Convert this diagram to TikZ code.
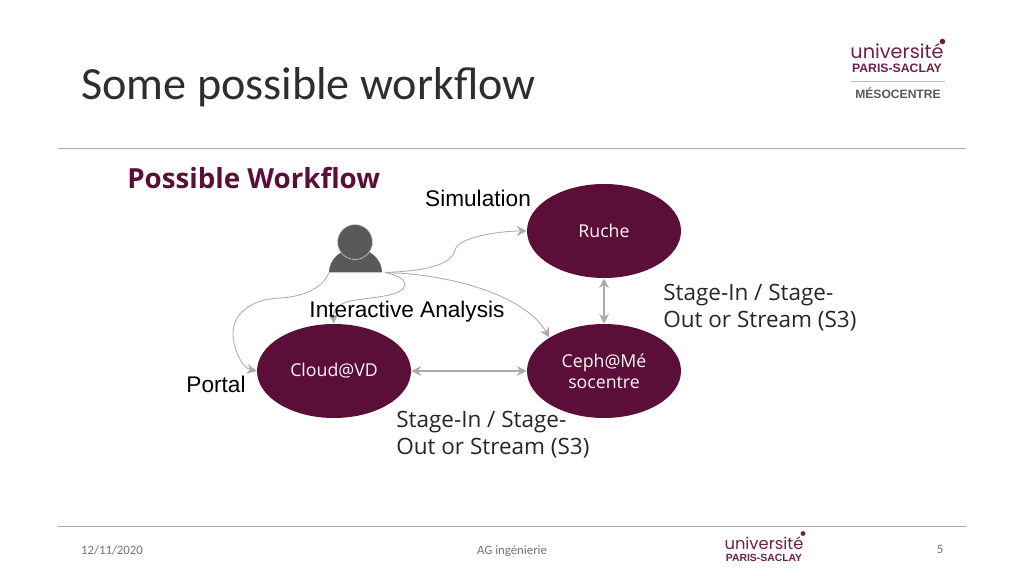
\documentclass[tikz,border=0pt]{standalone}
\usepackage{fontspec}
\setmainfont{Carlito}
\newfontfamily\opensans{Open Sans}
\newfontfamily\arialfont{Liberation Sans}
\newfontfamily\logofont{Poppins}
\usetikzlibrary{shapes.geometric,arrows.meta}
\definecolor{plum}{HTML}{5B0E38}
\definecolor{logoplum}{HTML}{6E1F48}
\definecolor{linegray}{HTML}{ABABAB}
\definecolor{persongray}{HTML}{595959}
\tikzset{
    site/.style={ellipse,fill=plum,minimum width=154*0.025cm,minimum height=94*0.025cm,inner sep=0pt,align=center,text=white!90!pink,font=\opensans\fontsize{12.6}{15}\selectfont},
    flow/.style={-{Stealth[length=7pt,width=7pt]},linegray,line width=0.6pt},
    both/.style={{Stealth[length=7pt,width=7pt]}-{Stealth[length=7pt,width=7pt]},linegray,line width=0.8pt},
    arial/.style={inner sep=0pt,text=black,font=\arialfont\fontsize{16.1}{18}\selectfont},
    sans/.style={inner sep=0pt,align=left,text=black!85,font=\opensans\fontsize{16}{19.2}\selectfont},
    foot/.style={inner sep=0pt,anchor=base,text=black!55,font=\fontsize{9.1}{10}\selectfont}
}
\begin{document}
\begin{tikzpicture}[x=0.025cm,y=-0.025cm]
    \useasboundingbox (0,0) rectangle (1024,576);
    % header and footer
    \node[inner sep=0pt,anchor=west,text=black!82,font=\fontsize{32.8}{36}\selectfont] (title) at (81,87) {Some possible workflow};
    \draw[linegray,line width=0.6pt] (58,148) -- (966,148);
    \draw[linegray,line width=0.6pt] (58,526) -- (966,526);
    \node[foot] (date) at (112,554) {12/11/2020};
    \node[foot] (event) at (512,554) {AG ingénierie};
    \node[foot] (page) at (940,553) {5};
    % logos
    \node[inner sep=0pt,text=logoplum,font=\logofont\fontsize{13.7}{15}\selectfont] (logo) at (897,51.5) {université};
    \node[inner sep=0pt,text=logoplum,font=\arialfont\bfseries\fontsize{8.7}{10}\selectfont] (saclay) at (897,68.5) {PARIS-SACLAY};
    \fill[logoplum] (942.5,41.5) circle (2.8);
    \draw[black!25] (851,81) -- (945,81);
    \node[inner sep=0pt,text=black!65,font=\arialfont\bfseries\fontsize{8.6}{10}\selectfont] (meso) at (898,93) {MÉSOCENTRE};
    \node[inner sep=0pt,text=logoplum,font=\logofont\fontsize{11.6}{13}\selectfont] (logob) at (764,543.5) {université};
    \node[inner sep=0pt,text=logoplum,font=\arialfont\bfseries\fontsize{7.4}{9}\selectfont] (saclayb) at (764,557.5) {PARIS-SACLAY};
    \fill[logoplum] (803,533.5) circle (2.4);
    % diagram
    \node[inner sep=0pt,anchor=west,text=plum,font=\opensans\bfseries\fontsize{19.7}{22}\selectfont] (heading) at (127,178) {Possible Workflow};
    \node[site] (ruche) at (604,231) {Ruche};
    \node[site] (cloud) at (334,371) {Cloud@VD};
    \node[site] (ceph) at (604,371) {Ceph@Mé\\socentre};
    % person
    \fill[persongray] (329,272.5) arc[start angle=180,end angle=360,x radius=26.5,y radius=24] -- cycle;
    \draw[white!75!persongray,fill=persongray] (355,242) circle (17.5);
    \coordinate (userl) at (329,272.5);
    \coordinate (userr) at (385,272.5);
    % connectors
    \draw[flow] (userr) .. controls (425,271) and (452,265) .. (455,250) .. controls (458,237) and (500,231) .. (ruche.west);
    \draw[flow] (userr) .. controls (450,274) and (525,295) .. (ceph.north west);
    \draw[flow] (userr) .. controls (398,275) and (405,280) .. (405,284) .. controls (405,297) and (370,297) .. (350,301) .. controls (335,305) and (333,312) .. (cloud.north);
    \draw[flow] (userl) .. controls (322,290) and (300,297) .. (280,298) .. controls (250,299) and (232,315) .. (233,335) .. controls (234,352) and (243,368) .. (cloud.west);
    \draw[both] (ruche.south) -- (ceph.north);
    \draw[both] (cloud.east) -- (ceph.west);
    % labels
    \node[arial] (simulation) at (478,198) {Simulation};
    \node[arial] (interactive) at (407,312) {Interactive Analysis};
    \node[arial] (portal) at (216,384) {Portal};
    \node[sans,anchor=north west] (stagea) at (663,284) {Stage-In / Stage-\\Out or Stream (S3)};
    \node[sans,anchor=north west] (stageb) at (396,411) {Stage-In / Stage-\\Out or Stream (S3)};
\end{tikzpicture}
\end{document}
